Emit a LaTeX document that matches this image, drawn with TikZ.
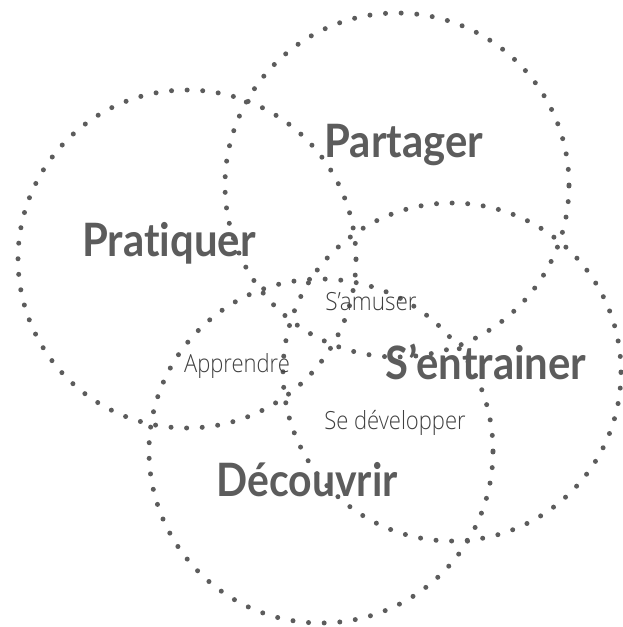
\documentclass[tikz,border=0pt]{standalone}
\usepackage{fontspec}
\setmainfont[Ligatures=NoCommon]{Lato}
\newfontfamily\lightf{Open Sans Light}
\definecolor{ink}{gray}{0.36}
\tikzset{
 ringa/.style={draw=ink,line width=5pt,line cap=round,dash pattern=on 0pt off 15.61pt},
 ringb/.style={draw=ink,line width=5pt,line cap=round,dash pattern=on 0pt off 15.65pt},
 big/.style={text=ink,font=\fontsize{46}{48}\selectfont\bfseries,inner sep=0pt},
 small/.style={text=black!75,font=\fontsize{25}{28}\selectfont\lightf,inner sep=0pt}
}
\begin{document}
\begin{tikzpicture}[x=1pt,y=-1pt]
\useasboundingbox (0,0) rectangle (622,627);
\node[ringa,circle,minimum size=338pt,inner sep=0pt] (c1) at (187,259) {};
\node[ringb,circle,minimum size=344pt,inner sep=0pt] (c2) at (397,185) {};
\node[ringa,circle,minimum size=338pt,inner sep=0pt] (c3) at (452,372) {};
\node[ringb,circle,minimum size=344pt,inner sep=0pt] (c4) at (321,451) {};
\node[big,xscale=.91] (n1) at (169,243) {Pratiquer};
\node[big,xscale=.91] (n2) at (404,145) {Partager};
\node[big,xscale=.91] (n3) at (486,362) {S’entrainer};
\node[big,xscale=.89] (n4) at (307,480) {Découvrir};
\node[small,xscale=.9] (s1) at (371,302) {S’amuser};
\node[small,xscale=.88] (s2) at (237,366) {Apprendre};
\node[small,xscale=.88] (s3) at (395,423) {Se développer};
\end{tikzpicture}
\end{document}
